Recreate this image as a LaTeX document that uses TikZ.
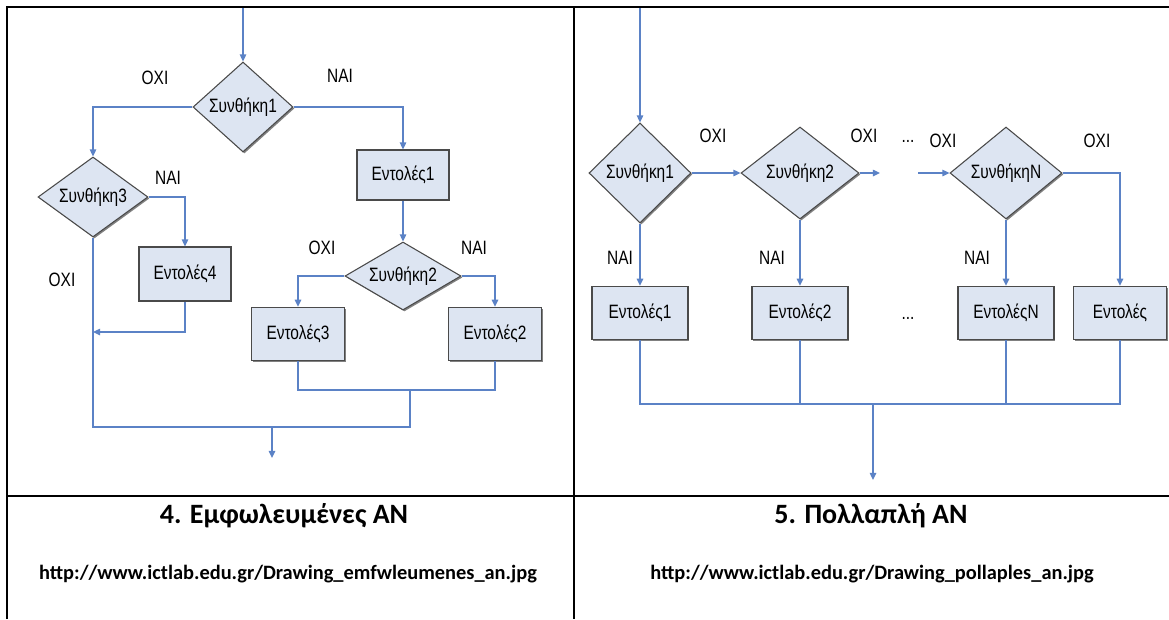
\documentclass[tikz,border=0pt]{standalone}
\usepackage{fontspec}
\setmainfont{Liberation Sans}
\newfontfamily\diagfont{Liberation Sans}[FakeStretch=0.8]
\newfontfamily\calib{Carlito}
\usetikzlibrary{shapes.geometric,arrows.meta,shadows}
\definecolor{lineblue}{HTML}{5B82C6}
\definecolor{nodefill}{HTML}{DDE5F2}
\definecolor{nodeedge}{HTML}{4A4A4A}
\begin{document}
\begin{tikzpicture}[x=0.75pt,y=-0.75pt,
  conn/.style={draw=lineblue, line width=1pt},
  arr/.style={conn, -{Triangle[length=5.3pt,width=4.8pt]}},
  shad/.style={drop shadow={shadow xshift=1.1pt, shadow yshift=-1.1pt, fill=black!50, opacity=1}},
  dia/.style={diamond, draw=nodeedge, fill=nodefill, line width=0.8pt, inner sep=0pt, shad, font=\diagfont\fontsize{14.5}{16}\selectfont},
  box/.style={rectangle, draw=nodeedge, fill=nodefill, line width=0.8pt, inner sep=0pt, shad, font=\diagfont\fontsize{14.5}{16}\selectfont},
  lbl/.style={font=\diagfont\fontsize{14.5}{16}\selectfont, inner sep=0pt},
  tbl/.style={line width=2pt, black},
  ttl/.style={font=\calib\bfseries\fontsize{21}{24}\selectfont, inner sep=0pt},
  url/.style={font=\calib\bfseries\fontsize{15.3}{17}\selectfont, inner sep=0pt}
]
\useasboundingbox (0,0) rectangle (1169,619);
\fill[white] (0,0) rectangle (1169,619);
% table
\draw[tbl] (7,619) -- (7,7) -- (1169,7);
\draw[tbl] (574,7) -- (574,619);
\draw[tbl] (7,496) -- (1169,496);
% ---------- left diagram ----------
\node[dia, minimum width=75pt, minimum height=67.5pt, aspect=1.11] (D1) at (243,107) {Συνθήκη1};
\node[dia, minimum width=82.5pt, minimum height=60pt, aspect=1.37] (D3) at (93,197) {Συνθήκη3};
\node[box, minimum width=69pt, minimum height=40.5pt] (E4) at (185,274) {Εντολές4};
\node[box, minimum width=69pt, minimum height=37.5pt] (E1) at (403,175) {Εντολές1};
\node[dia, minimum width=87pt, minimum height=51pt, aspect=1.7] (D2) at (403,276) {Συνθήκη2};
\node[box, minimum width=70pt, minimum height=40pt] (E3) at (298,334) {Εντολές3};
\node[box, minimum width=70pt, minimum height=40pt] (E2) at (495,334) {Εντολές2};
\node[lbl] (l1) at (155,78) {ΟΧΙ};
\node[lbl] (l2) at (340,76) {ΝΑΙ};
\node[lbl] (l3) at (168,178) {ΝΑΙ};
\node[lbl] (l4) at (62,280) {ΟΧΙ};
\node[lbl] (l5) at (322,248) {ΟΧΙ};
\node[lbl] (l6) at (474,248) {ΝΑΙ};
\coordinate (ltop) at (243,8);
\coordinate (j4) at (93,332);
\coordinate (b3) at (298,390);
\coordinate (b2) at (495,390);
\coordinate (m1) at (410,390);
\coordinate (m2) at (410,427);
\coordinate (m3) at (93,427);
\coordinate (mo) at (272,427);
\coordinate (end1) at (272,458);
\draw[arr] (ltop) -- (D1.north);
\draw[arr] (D1.west) -| (D3.north);
\draw[arr] (D1.east) -| (E1.north);
\draw[arr] (D3.east) -| (E4.north);
\draw[arr] (E1.south) -- (D2.north);
\draw[arr] (D2.west) -| (E3.north);
\draw[arr] (D2.east) -| (E2.north);
\draw[arr] (E4.south) |- (j4);
\draw[conn] (E3.south) -- (b3) -- (b2) -- (E2.south);
\draw[conn] (D3.south) -- (m3) -- (m2) -- (m1);
\draw[arr] (mo) -- (end1);
% ---------- right diagram ----------
\node[dia, minimum width=76.5pt, minimum height=75pt, aspect=1.02] (R1) at (640,173) {Συνθήκη1};
\node[dia, minimum width=88.5pt, minimum height=69pt, aspect=1.28] (R2) at (800,173) {Συνθήκη2};
\node[dia, minimum width=84pt, minimum height=69pt, aspect=1.22] (RN) at (1006,173) {ΣυνθήκηN};
\node[box, minimum width=72pt, minimum height=40pt] (RB1) at (640,313) {Εντολές1};
\node[box, minimum width=72pt, minimum height=40pt] (RB2) at (800,313) {Εντολές2};
\node[box, minimum width=72pt, minimum height=40pt] (RBN) at (1006,313) {ΕντολέςN};
\node[box, minimum width=70pt, minimum height=40pt] (RE) at (1120,313) {Εντολές};
\node[lbl] (r1) at (713,136) {ΟΧΙ};
\node[lbl] (r2) at (864,136) {ΟΧΙ};
\node[lbl] (r3) at (908,141) {...};
\node[lbl] (r4) at (943,141) {ΟΧΙ};
\node[lbl] (r5) at (1097,141) {ΟΧΙ};
\node[lbl] (r6) at (620,258) {ΝΑΙ};
\node[lbl] (r7) at (772,258) {ΝΑΙ};
\node[lbl] (r8) at (977,258) {ΝΑΙ};
\node[lbl] (r9) at (908,318) {...};
\coordinate (rtop) at (640,8);
\coordinate (r2o) at (880,173);
\coordinate (rni) at (918,173);
\coordinate (c1) at (640,404);
\coordinate (c4) at (1120,404);
\coordinate (rmo) at (873,404);
\coordinate (rend) at (873,480);
\draw[arr] (rtop) -- (R1.north);
\draw[arr] (R1.east) -- (R2.west);
\draw[arr] (R2.east) -- (r2o);
\draw[arr] (rni) -- (RN.west);
\draw[arr] (RN.east) -| (RE.north);
\draw[arr] (R1.south) -- (RB1.north);
\draw[arr] (R2.south) -- (RB2.north);
\draw[arr] (RN.south) -- (RBN.north);
\draw[conn] (RB1.south) -- (c1) -- (c4) -- (RE.south);
\draw[conn] (RB2.south) -- (RB2.south |- c1);
\draw[conn] (RBN.south) -- (RBN.south |- c1);
\draw[arr] (rmo) -- (rend);
% ---------- captions ----------
\node[ttl] (t1) at (284,516) {4. Εμφωλευμένες ΑΝ};
\node[ttl] (t2) at (871,516) {5. Πολλαπλή ΑΝ};
\node[url] (u1) at (288,574) {http://www.ictlab.edu.gr/Drawing\_emfwleumenes\_an.jpg};
\node[url] (u2) at (872,574) {http://www.ictlab.edu.gr/Drawing\_pollaples\_an.jpg};
\end{tikzpicture}
\end{document}
